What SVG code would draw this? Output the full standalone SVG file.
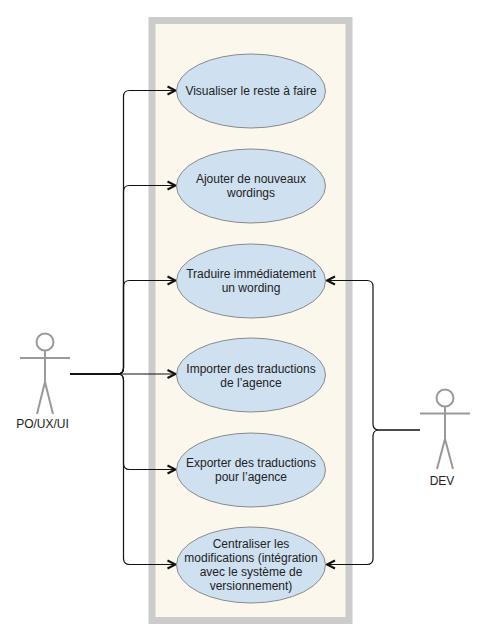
<svg xmlns="http://www.w3.org/2000/svg" width="490" height="640" viewBox="0 0 490 640">
<style>
text{font-family:"Liberation Sans",Arial,sans-serif;font-size:12px;fill:#222;text-anchor:middle}
.uc{fill:#cfe0f1;stroke:#8a8a8a;stroke-width:1}
.actor{fill:none;stroke:#999;stroke-width:2}
.c{fill:none;stroke:#111;stroke-width:1.200;marker-end:url(#a)}
</style>
<defs><marker id="a" markerUnits="userSpaceOnUse" markerWidth="12" markerHeight="12" refX="9.500" refY="6" orient="auto"><path d="M1 2L9 6L1 10" fill="none" stroke="#111" stroke-width="2"/></marker></defs>
<rect id="frame" x="152" y="20.500" width="197" height="600" fill="#fcf7ed" stroke="#cccccc" stroke-width="7"/>
<g id="connectors">
<path class="c" d="M70 374H117.500Q123.500 374 123.500 368V96.500Q123.500 90.500 129.500 90.500H176"/>
<path class="c" d="M70 374H117.500Q123.500 374 123.500 368V191.500Q123.500 185.500 129.500 185.500H176"/>
<path class="c" d="M70 374H117.500Q123.500 374 123.500 368V286.500Q123.500 280.500 129.500 280.500H176"/>
<path class="c" d="M70 374H176"/>
<path class="c" d="M70 374H117.500Q123.500 374 123.500 380V463.500Q123.500 469.500 129.500 469.500H176"/>
<path class="c" d="M70 374H117.500Q123.500 374 123.500 380V558.500Q123.500 564.500 129.500 564.500H176"/>
<path class="c" d="M420 430H379Q373 430 373 424V286.500Q373 280.500 367 280.500H326.500"/>
<path class="c" d="M420 430H379Q373 430 373 436V558.500Q373 564.500 367 564.500H326.500"/>
</g>
<g id="uc1"><ellipse class="uc" cx="251" cy="91" rx="74.500" ry="37"/><text x="251" y="95">Visualiser le reste à faire</text></g>
<g id="uc2"><ellipse class="uc" cx="251" cy="186" rx="74.500" ry="37"/><text x="251" y="183">Ajouter de nouveaux</text><text x="251" y="197">wordings</text></g>
<g id="uc3"><ellipse class="uc" cx="251" cy="281" rx="74.500" ry="37"/><text x="251" y="278">Traduire immédiatement</text><text x="251" y="292">un wording</text></g>
<g id="uc4"><ellipse class="uc" cx="251" cy="375" rx="74.500" ry="37"/><text x="251" y="373">Importer des traductions</text><text x="251" y="387">de l’agence</text></g>
<g id="uc5"><ellipse class="uc" cx="251" cy="470" rx="74.500" ry="37"/><text x="251" y="467">Exporter des traductions</text><text x="251" y="481">pour l’agence</text></g>
<g id="uc6"><ellipse class="uc" cx="251" cy="565" rx="74.500" ry="38"/><text x="251" y="548">Centraliser les</text><text x="251" y="562">modifications (intégration</text><text x="251" y="576">avec le système de</text><text x="251" y="590">versionnement)</text></g>
<g id="actor-po"><circle class="actor" cx="45" cy="342" r="8.500"/><path class="actor" d="M20 358H70M45 351V382M37 414L45 382L53 414"/><text x="42.500" y="428">PO/UX/UI</text></g>
<g id="actor-dev"><circle class="actor" cx="445" cy="398" r="8.500"/><path class="actor" d="M420 413.500H470M445 407V439M437 469L445 439L453 469"/><text x="442" y="485">DEV</text></g>
</svg>
